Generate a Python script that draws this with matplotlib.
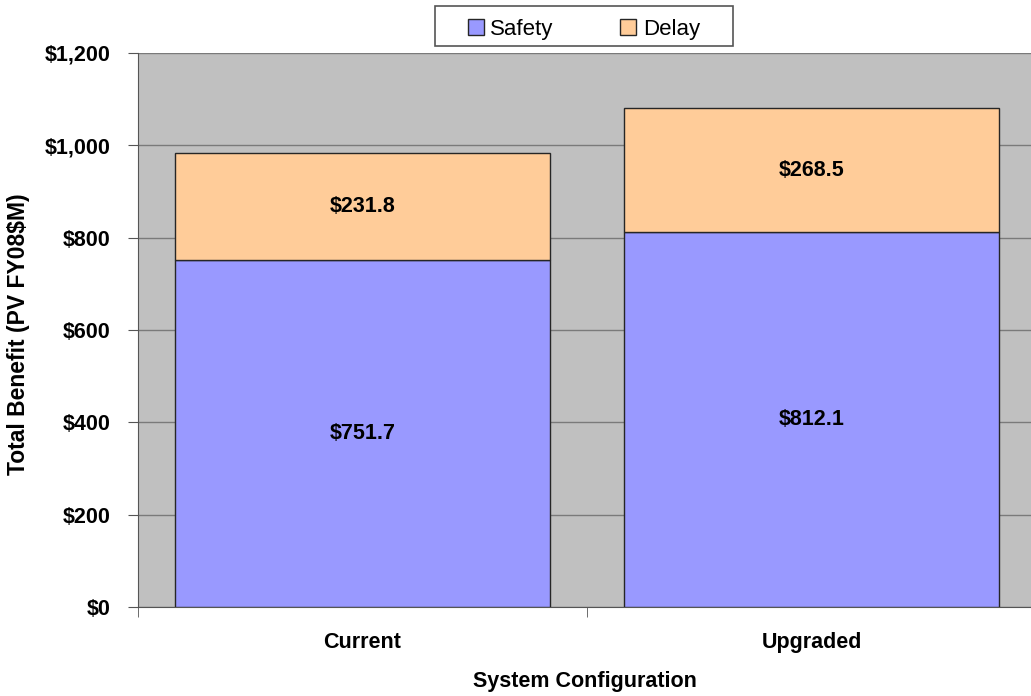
import matplotlib
matplotlib.use("Agg")
import matplotlib.pyplot as plt
from matplotlib.patches import Rectangle
from matplotlib.ticker import FuncFormatter, MultipleLocator
import numpy as np

categories = ["Current", "Upgraded"]
safety = [751.7, 812.1]
delay = [231.8, 268.5]
series_names = ["Safety", "Delay"]

plt.rcParams["font.family"] = ["Liberation Sans", "DejaVu Sans"]

W, H = 1031, 696
fig = plt.figure(figsize=(W / 100, H / 100), dpi=100)
ax = fig.add_axes([138 / W, 89 / H, 898 / W, 554 / H])
ax.set_facecolor("#C0C0C0")

x = np.arange(len(categories))
width = 0.833
edge = "#262626"
b1 = ax.bar(x, safety, width, color="#9999FF", edgecolor=edge, linewidth=1.0,
            label=series_names[0], zorder=3)
b2 = ax.bar(x, delay, width, bottom=safety, color="#FFCC99", edgecolor=edge,
            linewidth=1.0, label=series_names[1], zorder=3)

for xi, s, d in zip(x, safety, delay):
    ax.text(xi, s / 2, f"${s:,.1f}", ha="center", va="center",
            fontsize=15.5, fontweight="bold", zorder=4)
    ax.text(xi, s + d / 2, f"${d:,.1f}", ha="center", va="center",
            fontsize=15.5, fontweight="bold", zorder=4)

ax.set_xlim(-0.5, len(categories) - 0.5)
ax.set_ylim(0, 1200)
ax.yaxis.set_major_locator(MultipleLocator(200))
ax.yaxis.set_major_formatter(FuncFormatter(lambda v, p: f"${v:,.0f}"))
ax.grid(axis="y", color="#7a7a7a", linewidth=1.0, zorder=1)

# category labels centered, tick marks at category boundaries
ax.set_xticks(x)
ax.set_xticklabels(categories, fontsize=15.5, fontweight="bold")
ax.tick_params(axis="x", length=0, pad=18)
ax.set_xticks(np.arange(-0.5, len(categories)), minor=True)
ax.tick_params(axis="x", which="minor", length=7, color="#555555")
ax.tick_params(axis="y", length=7, color="#555555", labelsize=15.5, pad=13)
for lbl in ax.get_yticklabels():
    lbl.set_fontweight("bold")

for side in ["top", "right"]:
    ax.spines[side].set_visible(False)
ax.spines["left"].set_color("#555555")
ax.spines["bottom"].set_color("#555555")

ax.set_xlabel("System Configuration", fontsize=15.5, fontweight="bold", va="center")
ax.xaxis.set_label_coords(0.5 - 2 / 898, (607 - 681) / 554)
ax.set_ylabel("Total Benefit (PV FY08$M)", fontsize=16.5, fontweight="bold", va="center")
ax.yaxis.set_label_coords((19 - 138) / 898, 0.5 - 4 / 554)

# legend box at the top
fig.patches.append(Rectangle((435 / W, 1 - 46 / H), 298 / W, 40 / H,
                             transform=fig.transFigure, facecolor="white",
                             edgecolor="#555555", linewidth=1.2))
leg = fig.legend(handles=[b1, b2], labels=series_names, loc="center",
                 bbox_to_anchor=(584 / W, 1 - 29 / H), ncol=2,
                 frameon=False, fontsize=16, handlelength=0.72,
                 handleheight=0.72, handletextpad=0.3, columnspacing=3.0,
                 borderpad=0, borderaxespad=0)

fig.savefig("out.png", dpi=100, facecolor="white")
